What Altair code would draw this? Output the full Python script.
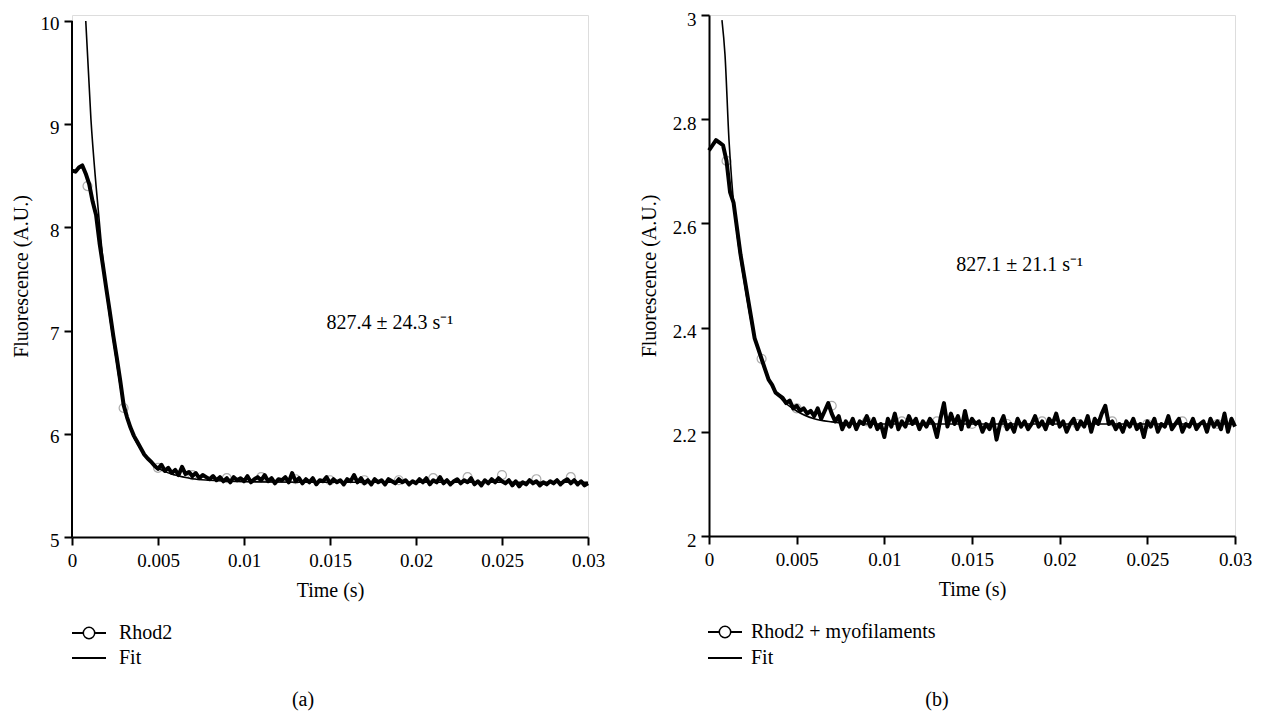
import altair as alt
import pandas as pd

FONT = "Liberation Serif"
STEP = 0.0002
N = 151
times = [round(i * STEP, 4) for i in range(N)]

# Panel (a): Rhod2 trace
rhod2 = [
    8.55, 8.54, 8.58, 8.60, 8.52, 8.42, 8.25, 8.12, 7.85, 7.63,
    7.40, 7.18, 6.95, 6.74, 6.52, 6.28, 6.16, 6.06, 5.98, 5.92,
    5.86, 5.80, 5.76, 5.73, 5.69, 5.66, 5.70, 5.64, 5.67, 5.62,
    5.65, 5.60, 5.68, 5.61, 5.63, 5.59, 5.62, 5.57, 5.60, 5.58,
    5.56, 5.59, 5.55, 5.58, 5.54, 5.57, 5.53, 5.58, 5.55, 5.57,
    5.54, 5.59, 5.53, 5.56, 5.58, 5.55, 5.60, 5.54, 5.57, 5.52,
    5.56, 5.55, 5.58, 5.53, 5.62, 5.54, 5.57, 5.52, 5.56, 5.53,
    5.57, 5.51, 5.55, 5.54, 5.58, 5.52, 5.56, 5.53, 5.55, 5.51,
    5.56, 5.54, 5.60, 5.53, 5.57, 5.52, 5.55, 5.51, 5.56, 5.53,
    5.55, 5.51, 5.56, 5.54, 5.52, 5.56, 5.53, 5.55, 5.51, 5.54,
    5.52, 5.56, 5.53, 5.57, 5.51, 5.55, 5.53, 5.58, 5.52, 5.55,
    5.51, 5.54, 5.56, 5.52, 5.55, 5.53, 5.57, 5.51, 5.54, 5.50,
    5.55, 5.52, 5.56, 5.53, 5.57, 5.54, 5.52, 5.55, 5.50, 5.54,
    5.49, 5.53, 5.51, 5.55, 5.52, 5.54, 5.50, 5.53, 5.51, 5.54,
    5.52, 5.55, 5.51, 5.54, 5.56, 5.52, 5.55, 5.51, 5.54, 5.50,
    5.52,
]
fit_a_t = [0.0008, 0.0011, 0.0014, 0.0017, 0.002, 0.0025, 0.003, 0.0035, 0.004,
           0.0045, 0.005, 0.006, 0.007, 0.008, 0.010, 0.015, 0.030]
fit_a_v = [10.0, 9.05, 8.4, 7.85, 7.38, 6.8, 6.28, 6.0, 5.85,
           5.74, 5.67, 5.6, 5.565, 5.55, 5.535, 5.53, 5.53]
circ_a_t = [0.0009, 0.003, 0.005, 0.007, 0.009, 0.011, 0.013, 0.015, 0.017,
            0.019, 0.021, 0.023, 0.025, 0.027, 0.029]
circ_a_v = [8.40, 6.25, 5.67, 5.60, 5.57, 5.58, 5.56, 5.55, 5.55,
            5.55, 5.57, 5.58, 5.60, 5.56, 5.58]

# Panel (b): Rhod2 + myofilaments trace
myo = [
    2.74, 2.75, 2.76, 2.755, 2.75, 2.72, 2.66, 2.64, 2.59, 2.54,
    2.50, 2.46, 2.42, 2.38, 2.36, 2.34, 2.32, 2.30, 2.29, 2.275,
    2.27, 2.265, 2.255, 2.26, 2.245, 2.25, 2.24, 2.245, 2.235, 2.24,
    2.23, 2.245, 2.225, 2.24, 2.255, 2.235, 2.22, 2.23, 2.205, 2.22,
    2.21, 2.225, 2.205, 2.22, 2.215, 2.23, 2.21, 2.225, 2.205, 2.215,
    2.19, 2.225, 2.21, 2.235, 2.205, 2.22, 2.21, 2.23, 2.215, 2.225,
    2.205, 2.22, 2.21, 2.225, 2.215, 2.19, 2.225, 2.255, 2.21, 2.235,
    2.215, 2.23, 2.205, 2.24, 2.21, 2.225, 2.215, 2.22, 2.20, 2.215,
    2.205, 2.225, 2.185, 2.215, 2.23, 2.205, 2.215, 2.20, 2.225, 2.21,
    2.22, 2.205, 2.215, 2.23, 2.21, 2.22, 2.205, 2.225, 2.215, 2.235,
    2.21, 2.22, 2.20, 2.215, 2.225, 2.205, 2.22, 2.21, 2.23, 2.20,
    2.225, 2.215, 2.235, 2.25, 2.215, 2.22, 2.205, 2.215, 2.20, 2.22,
    2.21, 2.225, 2.205, 2.215, 2.19, 2.22, 2.21, 2.225, 2.20, 2.215,
    2.21, 2.23, 2.205, 2.215, 2.225, 2.20, 2.215, 2.21, 2.225, 2.205,
    2.215, 2.22, 2.20, 2.225, 2.21, 2.22, 2.205, 2.235, 2.20, 2.225,
    2.21,
]
fit_b_t = [0.00074, 0.00091, 0.00114, 0.0013, 0.0016, 0.002, 0.0025, 0.003, 0.0035,
           0.004, 0.005, 0.006, 0.007, 0.008, 0.010, 0.030]
fit_b_v = [2.99, 2.925, 2.76, 2.68, 2.58, 2.49, 2.395, 2.335, 2.295,
           2.268, 2.24, 2.225, 2.219, 2.216, 2.215, 2.215]
circ_b_t = [0.001, 0.003, 0.005, 0.007, 0.009, 0.011, 0.013, 0.015, 0.017,
            0.019, 0.021, 0.023, 0.025, 0.027, 0.029]
circ_b_v = [2.72, 2.34, 2.245, 2.25, 2.22, 2.22, 2.22, 2.215, 2.215,
            2.22, 2.215, 2.22, 2.215, 2.22, 2.215]

x_ticks = [0, 0.005, 0.01, 0.015, 0.02, 0.025, 0.03]


def axis(title, values, domain=True, tpad=10, lpad=5, loff=0):
    return alt.Axis(
        title=title, values=values, format="~r", grid=False, domain=domain,
        domainColor="black", domainWidth=2, tickColor="black", tickWidth=2,
        tickSize=8, labelFont=FONT, labelFontSize=19, labelColor="black",
        labelPadding=lpad, labelOffset=loff, labelFlush=False, labelOverlap=False,
        titleFont=FONT, titleFontSize=20,
        titleFontWeight="normal", titleColor="black", titlePadding=tpad,
    )


def panel(tr_v, fit_t, fit_v, c_t, c_v, ydom, ytop, yvals, w, h, ann, label, tag,
          leg, ytpad, draw_ydomain, yloff):
    xs = alt.Scale(domain=[0, 0.03], nice=False, zero=False)
    ys = alt.Scale(domain=[ydom[0], ytop], nice=False, zero=False)
    X = alt.X("t:Q", scale=xs, axis=axis("Time (s)", x_ticks, tpad=10, lpad=6))
    Y = alt.Y("v:Q", scale=ys,
              axis=axis("Fluorescence (A.U.)", yvals, domain=not draw_ydomain,
                        tpad=ytpad, lpad=5, loff=yloff))
    layers = []
    if draw_ydomain:
        dom = pd.DataFrame({"t": [0], "v": [ydom[0]], "v2": [ydom[1]]})
        layers.append(alt.Chart(dom).mark_rule(color="black", strokeWidth=2).encode(
            x=X, y=Y, y2="v2:Q"))
    circ = alt.Chart(pd.DataFrame({"t": c_t, "v": c_v})).mark_point(
        shape="circle", filled=False, color="#8a8a8a", size=80, strokeWidth=1.2
    ).encode(x=X, y=Y)
    trace = alt.Chart(pd.DataFrame({"t": times, "v": tr_v})).mark_line(
        color="black", strokeWidth=4, strokeJoin="round"
    ).encode(x=X, y=Y)
    fit = alt.Chart(pd.DataFrame({"t": fit_t, "v": fit_v})).mark_line(
        color="black", strokeWidth=1.6, interpolate="monotone"
    ).encode(x=X, y=Y)
    ann_df = pd.DataFrame({"t": [ann[0]], "v": [ann[1]], "s": [ann[2]]})
    annot = alt.Chart(ann_df).mark_text(
        align="left", baseline="middle", font=FONT, fontSize=20, color="black"
    ).encode(x=X, y=Y, text="s:N")
    d = pd.DataFrame({"a": [0]})
    lx0, ly1, ly2, ltx, tagx, tagy = leg
    r1 = alt.Chart(d).mark_rule(color="black", strokeWidth=2).encode(
        x=alt.value(lx0), x2=alt.value(lx0 + 34), y=alt.value(ly1))
    r2 = alt.Chart(d).mark_rule(color="black", strokeWidth=2).encode(
        x=alt.value(lx0), x2=alt.value(lx0 + 34), y=alt.value(ly2))
    pc = alt.Chart(d).mark_point(shape="circle", filled=True, fill="white", stroke="black",
                                 size=130, strokeWidth=1.5, opacity=1).encode(
        x=alt.value(lx0 + 17), y=alt.value(ly1))
    t1 = alt.Chart(d).mark_text(align="left", baseline="middle", font=FONT, fontSize=20,
                                color="black").encode(
        x=alt.value(ltx), y=alt.value(ly1), text=alt.value(label))
    t2 = alt.Chart(d).mark_text(align="left", baseline="middle", font=FONT, fontSize=20,
                                color="black").encode(
        x=alt.value(ltx), y=alt.value(ly2), text=alt.value("Fit"))
    t3 = alt.Chart(d).mark_text(align="center", baseline="middle", font=FONT, fontSize=20,
                                color="black").encode(
        x=alt.value(tagx), y=alt.value(tagy), text=alt.value(tag))
    layers += [circ, trace, fit, annot, r1, r2, pc, t1, t2, t3]
    return alt.layer(*layers).properties(width=w, height=h)


left = panel(rhod2, fit_a_t, fit_a_v, circ_a_t, circ_a_v, [5, 10], 10.058,
             [5, 6, 7, 8, 9, 10], 516, 522,
             (0.0148, 7.07, "827.4 \u00b1 24.3 s\u207b\u00b9"), "Rhod2", "(a)",
             (0, 618, 643, 47, 231, 685), 9, True, 3)
right = panel(myo, fit_b_t, fit_b_v, circ_b_t, circ_b_v, [2, 3], 3,
              [2, 2.2, 2.4, 2.6, 2.8, 3], 526, 521,
              (0.0141, 2.52, "827.1 \u00b1 21.1 s\u207b\u00b9"),
              "Rhod2 + myofilaments", "(b)", (-1, 617, 643, 42, 228, 685), 13, False, 4)

chart = alt.hconcat(left, right, spacing=32).properties(
    padding={"left": 2, "top": 1, "right": 0, "bottom": 0}
).configure_view(stroke=None).configure(background="white")

chart.save("out.html", embed_options={"renderer": "svg", "actions": False})
